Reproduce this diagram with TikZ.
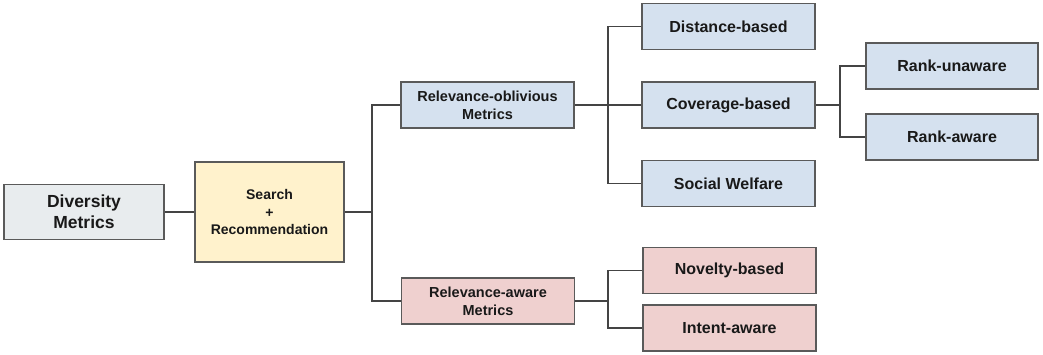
\documentclass[tikz,border=0pt]{standalone}
\usepackage{fontspec}
\setmainfont{Liberation Sans}
\definecolor{bordc}{HTML}{5A5A5A}
\definecolor{linec}{HTML}{444444}
\definecolor{grayf}{HTML}{E8ECEE}
\definecolor{yelf}{HTML}{FFF2CC}
\definecolor{bluef}{HTML}{D5E1EF}
\definecolor{redf}{HTML}{EFD0CF}
\begin{document}
\begin{tikzpicture}[x=1pt,y=-1pt,
  box/.style={draw=bordc,line width=1.3pt,inner sep=0pt,align=center,font=\bfseries,text=black!90},
  leaf/.style={box,minimum width=173pt,minimum height=46pt,font=\fontsize{16}{19}\bfseries\selectfont},
  mid/.style={box,minimum width=173pt,minimum height=46pt,font=\fontsize{14.5}{17.7}\bfseries\selectfont},
  conn/.style={draw=linec,line width=1.2pt}]
\useasboundingbox (0,0) rectangle (1043,354);
\node[box,fill=grayf,minimum width=160pt,minimum height=55pt,font=\fontsize{17.5}{20.7}\bfseries\selectfont] (div) at (84,212) {Diversity\\Metrics};
\node[box,fill=yelf,minimum width=149pt,minimum height=100pt,font=\fontsize{14}{17.5}\bfseries\selectfont] (sr) at (269.5,212) {Search\\+\\Recommendation};
\node[mid,fill=bluef] (ro) at (487.5,105) {Relevance-oblivious\\Metrics};
\node[mid,fill=redf] (ra) at (488,301) {Relevance-aware\\Metrics};
\node[leaf,fill=bluef] (dist) at (728.5,26.5) {Distance-based};
\node[leaf,fill=bluef] (cov) at (728.5,105) {Coverage-based};
\node[leaf,fill=bluef] (sw) at (728.5,183.5) {Social Welfare};
\node[leaf,fill=bluef,minimum width=172pt] (ru) at (952,66) {Rank-unaware};
\node[leaf,fill=bluef,minimum width=172pt] (rka) at (952,137) {Rank-aware};
\node[leaf,fill=redf] (nov) at (729.5,270.5) {Novelty-based};
\node[leaf,fill=redf] (int) at (729.5,328) {Intent-aware};
\coordinate (b1) at (372,212);
\coordinate (b2) at (608,105);
\coordinate (b3) at (840,105);
\coordinate (b4) at (608,301);
\draw[conn] (div.east) -- (sr.west);
\draw[conn] (sr.east) -- (b1);
\draw[conn] (b1) |- (ro.west);
\draw[conn] (b1) |- (ra.west);
\draw[conn] (ro.east) -- (b2);
\draw[conn] (b2) |- (dist.west);
\draw[conn] (b2) -- (cov.west);
\draw[conn] (b2) |- (sw.west);
\draw[conn] (cov.east) -- (b3);
\draw[conn] (b3) |- (ru.west);
\draw[conn] (b3) |- (rka.west);
\draw[conn] (ra.east) -- (b4);
\draw[conn] (b4) |- (nov.west);
\draw[conn] (b4) |- (int.west);
\end{tikzpicture}
\end{document}
